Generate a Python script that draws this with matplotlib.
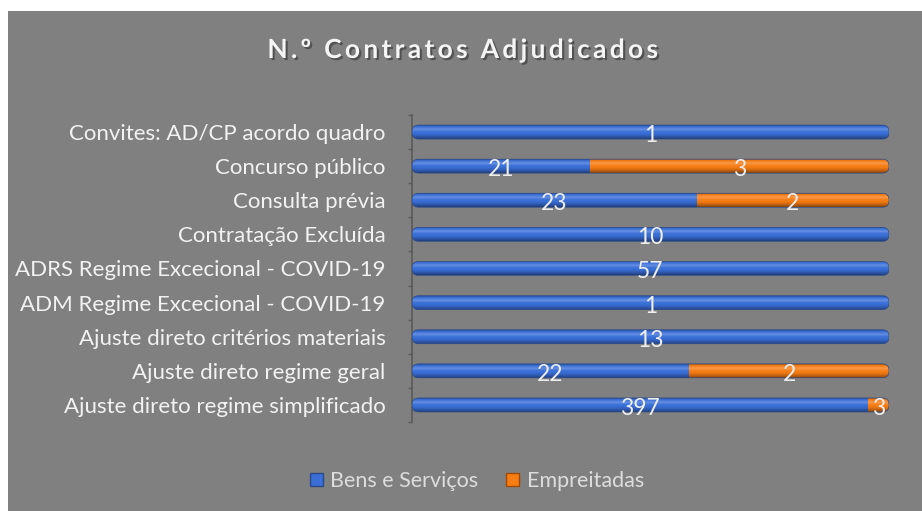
import matplotlib
matplotlib.use("Agg")
import matplotlib.pyplot as plt
import numpy as np
from matplotlib.patches import FancyBboxPatch, Rectangle
import matplotlib.patheffects as pe

# Contract types (top to bottom)
categorias = [
    "Convites: AD/CP acordo quadro",
    "Concurso público",
    "Consulta prévia",
    "Contratação Excluída",
    "ADRS Regime Excecional - COVID-19",
    "ADM Regime Excecional - COVID-19",
    "Ajuste direto critérios materiais",
    "Ajuste direto regime geral",
    "Ajuste direto regime simplificado",
]
# Number of contracts awarded (shown as labels)
contratos_bens = [1, 21, 23, 10, 57, 1, 13, 22, 397]
contratos_empreitadas = [0, 3, 2, 0, 0, 0, 0, 2, 3]
# Share of each bar (percent of row total)
peso_bens = [100, 37.3, 59.7, 100, 100, 100, 100, 58.1, 95.6]
peso_empreitadas = [0, 62.7, 40.3, 0, 0, 0, 0, 41.9, 4.4]
series = ["Bens e Serviços", "Empreitadas"]
titulo = "N.º Contratos Adjudicados"

AZUL = "#3a6fd8"
LARANJA = "#f67c14"
FUNDO = "#808080"
TEXTO = "#f2f2f2"
FONTE = ["Lato", "DejaVu Sans"]

W, H = 922, 511
fig = plt.figure(figsize=(W / 100, H / 100), dpi=100, facecolor="white")
fig.patches.append(Rectangle((8 / W, 0), 1, (H - 11) / H, transform=fig.transFigure,
                             facecolor=FUNDO, edgecolor="none", zorder=-10))

left, right = 412 / W, 889 / W
top, bottom = 1 - 115 / H, 1 - 422 / H
ax = fig.add_axes([left, bottom, right - left, top - bottom])
ax.set_facecolor("none")

y = np.arange(len(categorias))
h = 0.41
b1 = ax.barh(y, peso_bens, height=h, color=AZUL, edgecolor="none", zorder=2)
b2 = ax.barh(y, peso_empreitadas, left=peso_bens, height=h, color=LARANJA,
             edgecolor="none", zorder=2)

# pixel ratio between x and y data units, for round bar ends
px_x = (right - left) * W / 100
px_y = (top - bottom) * H / len(categorias)
aspect = px_x / px_y
raio = h / 2 / aspect * 0.95

# vertical shading for a cylinder look (row 0 = top of bar)
n = 40
t = np.linspace(0, 1, n)
sombra = np.zeros((n, 1, 4))
luz = np.clip(1 - np.abs(t - 0.3) / 0.2, 0, 1) * 0.22
escuro = np.clip((t - 0.55) / 0.45, 0, 1) ** 1.5 * 0.45 + np.clip(1 - t / 0.12, 0, 1) * 0.25
rgb = np.where(luz[:, None] > escuro[:, None], 1.0, 0.0)
sombra[:, 0, :3] = rgb
sombra[:, 0, 3] = np.maximum(luz, escuro)

for i, yi in enumerate(y):
    total = peso_bens[i] + peso_empreitadas[i]
    forma = FancyBboxPatch((0, yi - h / 2), total, h,
                           boxstyle=f"round,pad=0,rounding_size={raio}",
                           mutation_aspect=aspect, facecolor="none",
                           edgecolor="#2a4a8a", lw=0.5, zorder=4)
    ax.add_patch(forma)
    b1[i].set_clip_path(forma)
    b2[i].set_clip_path(forma)
    im = ax.imshow(sombra, extent=(0, total, yi + h / 2, yi - h / 2),
                   aspect="auto", zorder=3, interpolation="bilinear")
    im.set_clip_path(forma)

ax.set_xlim(0, 100)
ax.set_ylim(len(categorias) - 0.5, -0.5)

# value labels
for i, yi in enumerate(y):
    if contratos_bens[i]:
        ax.text(peso_bens[i] / 2, yi + 0.1, str(contratos_bens[i]), ha="center",
                va="center", color="#eeeeee", fontsize=16.5, family=FONTE, zorder=5)
    if contratos_empreitadas[i]:
        ax.text(peso_bens[i] + peso_empreitadas[i] / 2, yi + 0.1,
                str(contratos_empreitadas[i]), ha="center", va="center",
                color="#eeeeee", fontsize=16.5, family=FONTE, zorder=5)

ax.set_yticks(y)
ax.set_yticklabels(categorias, family=FONTE, fontsize=16, color=TEXTO)
ax.tick_params(axis="y", length=0, pad=19)
ax.set_yticks(np.arange(len(categorias) + 1) - 0.5, minor=True)
ax.tick_params(axis="y", which="minor", length=3, color="#5a5a5a", width=1)
ax.set_xticks([])
for s in ["top", "right", "bottom"]:
    ax.spines[s].set_visible(False)
ax.spines["left"].set_color("#5a5a5a")
ax.spines["left"].set_linewidth(1.2)
ax.spines["left"].set_zorder(1)

# title with widened letter spacing
fig.text(462 / W, 1 - 50 / H, "\u2009".join(titulo), ha="center", va="center",
         fontsize=19, fontweight="bold", family=FONTE, color="#f5f5f5",
         path_effects=[pe.withSimplePatchShadow(offset=(1.5, -1.5), shadow_rgbFace="#333333",
                                                alpha=0.6)])

handles = [Rectangle((0, 0), 1, 1, facecolor=AZUL, edgecolor="#2a4a8a"),
           Rectangle((0, 0), 1, 1, facecolor=LARANJA, edgecolor="#a04a08")]
fig.legend(handles, series, loc="center", bbox_to_anchor=(477 / W, 1 - 481 / H),
           ncol=2, frameon=False, prop={"family": FONTE, "size": 15.5},
           labelcolor="#dddddd", handlelength=0.6, handleheight=0.6,
           handletextpad=0.35, columnspacing=1.3)

fig.savefig("out.png", dpi=100, facecolor="white")
